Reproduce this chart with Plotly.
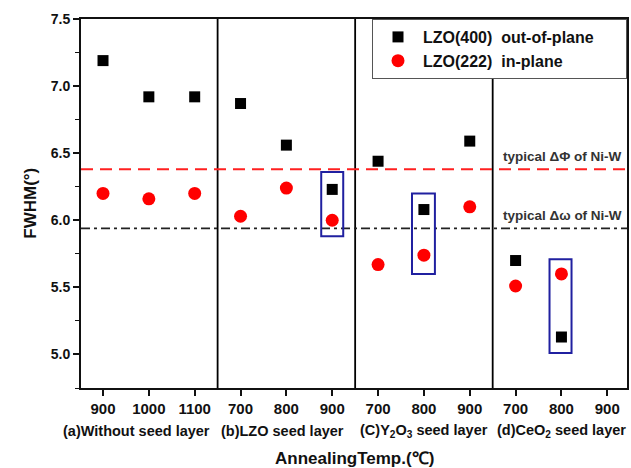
import plotly.graph_objects as go

# ---- data ----
positions = [1, 2, 3, 4, 5, 6, 7, 8, 9, 10, 11, 12]
tick_labels = ["900", "1000", "1100", "700", "800", "900",
               "700", "800", "900", "700", "800", "900"]
group_labels = ["(a)Without seed layer", "(b)LZO seed layer",
                "(C)Y<sub>2</sub>O<sub>3</sub> seed layer", "(d)CeO<sub>2</sub> seed layer"]
group_centers = [2, 5, 8, 11]
group_separators = [3.5, 6.5, 9.5]

out_plane_x = [1, 2, 3, 4, 5, 6, 7, 8, 9, 10, 11]
out_plane_fwhm = [7.19, 6.92, 6.92, 6.87, 6.56, 6.23, 6.44, 6.08, 6.59, 5.70, 5.13]
in_plane_x = [1, 2, 3, 4, 5, 6, 7, 8, 9, 10, 11]
in_plane_fwhm = [6.20, 6.16, 6.20, 6.03, 6.24, 6.00, 5.67, 5.74, 6.10, 5.51, 5.60]

typical_phi = 6.38
typical_omega = 5.94

# highlight boxes: (x0, x1, y0, y1)
box_x0 = [5.76, 7.74, 10.74]
box_x1 = [6.24, 8.24, 11.22]
box_y0 = [5.88, 5.60, 5.01]
box_y1 = [6.36, 6.20, 5.71]

FONT = "Liberation Sans, Arial, sans-serif"
PAD = "&nbsp;" * 6
label_shifts = [-12, -4, 0, 0]

fig = go.Figure()
fig.add_trace(go.Scatter(
    x=out_plane_x, y=out_plane_fwhm, mode="markers",
    name="<b>LZO(400)  out-of-plane</b>" + PAD,
    marker=dict(symbol="square", size=11, color="black")))
fig.add_trace(go.Scatter(
    x=in_plane_x, y=in_plane_fwhm, mode="markers",
    name="<b>LZO(222)  in-plane</b>" + PAD,
    marker=dict(symbol="circle", size=13, color="#ff0000")))

shapes = []
for xs in group_separators:
    shapes.append(dict(type="line", xref="x", yref="paper", x0=xs, x1=xs, y0=0, y1=1,
                       line=dict(color="black", width=1.8)))
shapes.append(dict(type="line", xref="paper", yref="y", x0=0, x1=1, y0=typical_phi, y1=typical_phi,
                   line=dict(color="#ff2020", width=2, dash="12px,7px")))
shapes.append(dict(type="line", xref="paper", yref="y", x0=0, x1=1, y0=typical_omega, y1=typical_omega,
                   line=dict(color="#222222", width=1.8, dash="9px,4px,3px,4px")))
for x0, x1, y0, y1 in zip(box_x0, box_x1, box_y0, box_y1):
    shapes.append(dict(type="rect", xref="x", yref="y", x0=x0, x1=x1, y0=y0, y1=y1,
                       line=dict(color="#2020a0", width=2), fillcolor="rgba(0,0,0,0)"))

annotations = []
for cx, lab, sh in zip(group_centers, group_labels, label_shifts):
    annotations.append(dict(x=cx, y=-0.117, xref="x", yref="paper", text="<b>" + lab + "</b>",
                            showarrow=False, yanchor="middle", xshift=sh,
                            font=dict(family=FONT, size=14.5, color="#111111")))
annotations.append(dict(x=0.5, y=-0.19, xref="paper", yref="paper",
                        text="<b>AnnealingTemp.(℃)</b>", showarrow=False, yanchor="middle",
                        font=dict(family=FONT, size=17, color="#111111")))
annotations.append(dict(x=-0.093, y=0.5, xref="paper", yref="paper", textangle=-90,
                        text="<b>FWHM(°)</b>", showarrow=False, xanchor="center", yanchor="middle",
                        font=dict(family=FONT, size=17, color="#111111")))
annotations.append(dict(x=0.995, y=typical_phi, xref="paper", yref="y",
                        text="<b>typical ΔΦ of Ni-W</b>", showarrow=False,
                        xanchor="right", yanchor="bottom", yshift=3,
                        font=dict(family=FONT, size=13.5, color="#333333")))
annotations.append(dict(x=0.995, y=typical_omega, xref="paper", yref="y",
                        text="<b>typical Δω of Ni-W</b>", showarrow=False,
                        xanchor="right", yanchor="bottom", yshift=3,
                        font=dict(family=FONT, size=13.5, color="#333333")))

fig.update_layout(
    width=631, height=468,
    margin=dict(l=81, r=2, t=19, b=80),
    paper_bgcolor="white", plot_bgcolor="white",
    font=dict(family=FONT, size=14, color="#111111"),
    shapes=shapes, annotations=annotations,
    showlegend=True,
    legend=dict(x=1.0, y=1.0, xanchor="right", yanchor="top",
                bgcolor="white", bordercolor="#555555", borderwidth=1,
                font=dict(family=FONT, size=16, color="#111111"),
                tracegroupgap=0, itemwidth=40),
    xaxis=dict(range=[0.52, 12.43], tickvals=positions,
               ticktext=["<b>" + t + "</b>" for t in tick_labels],
               showgrid=False, zeroline=False, showline=True, mirror=True,
               linecolor="#111111", linewidth=2, ticks="outside", ticklen=6,
               tickwidth=1.5, tickcolor="#111111",
               tickfont=dict(family=FONT, size=15)),
    yaxis=dict(range=[4.75, 7.5], tickvals=[5.0, 5.5, 6.0, 6.5, 7.0, 7.5],
               ticktext=["<b>5.0</b>", "<b>5.5</b>", "<b>6.0</b>", "<b>6.5</b>", "<b>7.0</b>", "<b>7.5</b>"],
               showgrid=False, zeroline=False, showline=True, mirror=True,
               linecolor="#111111", linewidth=2, ticks="outside", ticklen=6,
               tickwidth=1.5, tickcolor="#111111",
               minor=dict(tickvals=[4.75, 5.25, 5.75, 6.25, 6.75, 7.25], ticks="outside",
                          ticklen=4, tickwidth=1.2, tickcolor="#111111"),
               tickfont=dict(family=FONT, size=14)),
)

fig.write_html("out.html", config={"displayModeBar": False},
               post_script="document.body.style.margin='0';document.body.style.overflow='hidden';")
